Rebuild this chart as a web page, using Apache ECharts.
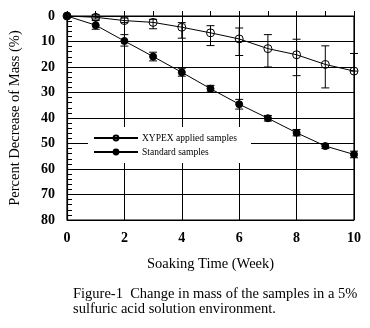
<!DOCTYPE html>
<html><head><meta charset="utf-8">
<script src="https://cdn.jsdelivr.net/npm/echarts@6/dist/echarts.min.js"></script>
<style>html,body{margin:0;padding:0;background:#fff}#c{width:370px;height:328px}</style>
</head><body><div id="c"></div>
<script>
const weeks=[0,1,2,3,4,5,6,7,8,9,10];
const xypexMean=[0,0.5,1.8,2.5,4.4,6.6,9.0,12.8,15.2,19.0,21.6];
const xypexLow=[0,-0.5,0.8,1.3,2.6,3.8,4.7,7.3,9.1,11.7,14.7];
const xypexHigh=[0,1.2,2.6,5.0,8.7,11.6,15.5,20.0,23.4,28.2,21.6];
const stdMean=[0,3.6,9.8,15.9,22.1,28.5,34.6,40.1,45.8,51.0,54.3];
const stdLow=[0,1.8,7.3,14.2,20.5,27.2,32.7,39.0,44.5,50.0,53.0];
const stdHigh=[0,5.2,11.8,17.6,23.6,29.8,36.5,41.2,47.0,52.0,55.6];
const seriesNames=['XYPEX applied samples','Standard samples'];
const xAxisName='Soaking Time (Week)';
const yAxisName='Percent Decrease of Mass (%)';
const caption='Figure-1  Change in mass of the samples in a 5%\nsulfuric acid solution environment.';

const serif='"Liberation Serif","DejaVu Serif",serif';
function errData(low,high){return weeks.map((w,i)=>[w,low[i],high[i]]).filter(d=>d[0]!==0);}
function errRender(params,api){
  const x=api.value(0);
  const lo=api.value(1), hi=api.value(2);
  const p1=api.coord([x,lo]), p2=api.coord([x,hi]);
  const w=4;
  const st={stroke:'#000',lineWidth:1};
  return {type:'group',children:[
    {type:'line',shape:{x1:p1[0],y1:p1[1],x2:p2[0],y2:p2[1]},style:st},
    {type:'line',shape:{x1:p1[0]-w,y1:p1[1],x2:p1[0]+w,y2:p1[1]},style:st},
    {type:'line',shape:{x1:p2[0]-w,y1:p2[1],x2:p2[0]+w,y2:p2[1]},style:st}
  ]};
}
const chart=echarts.init(document.getElementById('c'),null,{renderer:'canvas'});
chart.setOption({
  animation:false,
  backgroundColor:'#fff',
  textStyle:{fontFamily:serif,color:'#000'},
  title:{text:caption,left:73,top:287,padding:0,textStyle:{fontFamily:serif,fontSize:14.5,fontWeight:'normal',color:'#000',lineHeight:15}},
  grid:{left:67,right:16,top:16,bottom:108,show:true,borderColor:'#000',borderWidth:1.2,backgroundColor:'transparent'},
  legend:{
    orient:'vertical',left:88,top:127,
    backgroundColor:'#fff',padding:[6,14,6,5],
    itemWidth:44,itemHeight:6,itemGap:4,
    data:seriesNames,
    textStyle:{fontFamily:serif,fontSize:9.5,color:'#000',padding:[0,0,0,-1]}
  },
  xAxis:{type:'value',min:0,max:10,interval:2,
    name:xAxisName,nameLocation:'middle',nameGap:37,
    nameTextStyle:{fontFamily:serif,fontSize:14.5,color:'#000'},
    axisLine:{show:true,lineStyle:{color:'#000',width:1.2}},
    axisTick:{show:true,inside:true,length:5,lineStyle:{color:'#000'}},
    minorTick:{show:true,splitNumber:2,length:5,lineStyle:{color:'#000'}},
    axisLabel:{fontFamily:serif,fontSize:14,fontWeight:'bold',color:'#000',margin:11},
    splitLine:{show:true,lineStyle:{color:'#000',width:1}}
  },
  yAxis:{type:'value',min:0,max:80,interval:10,inverse:true,
    name:yAxisName,nameLocation:'middle',nameGap:44,
    nameTextStyle:{fontFamily:serif,fontSize:14.5,color:'#000'},
    axisLine:{show:true,lineStyle:{color:'#000',width:1.2}},
    axisTick:{show:true,inside:true,length:5,lineStyle:{color:'#000'}},
    minorTick:{show:true,splitNumber:5,length:5,lineStyle:{color:'#000'}},
    axisLabel:{fontFamily:serif,fontSize:14,fontWeight:'bold',color:'#000',margin:12},
    splitLine:{show:true,lineStyle:{color:'#000',width:1}}
  },
  series:[
    {type:'custom',name:'xypexErr',renderItem:errRender,data:errData(xypexLow,xypexHigh),z:3,silent:true},
    {type:'custom',name:'stdErr',renderItem:errRender,data:errData(stdLow,stdHigh),z:3,silent:true},
    {type:'line',name:seriesNames[0],data:weeks.map((w,i)=>[w,xypexMean[i]]),
      symbol:'circle',symbolSize:8,
      lineStyle:{color:'#000',width:1},
      itemStyle:{color:'rgba(255,255,255,0)',borderColor:'#000',borderWidth:1},z:4},
    {type:'line',name:seriesNames[1],data:weeks.map((w,i)=>[w,stdMean[i]]),
      symbol:'circle',symbolSize:7,
      lineStyle:{color:'#000',width:1},
      itemStyle:{color:'#000',borderColor:'#000',borderWidth:1},z:4}
  ]
});
</script></body></html>
